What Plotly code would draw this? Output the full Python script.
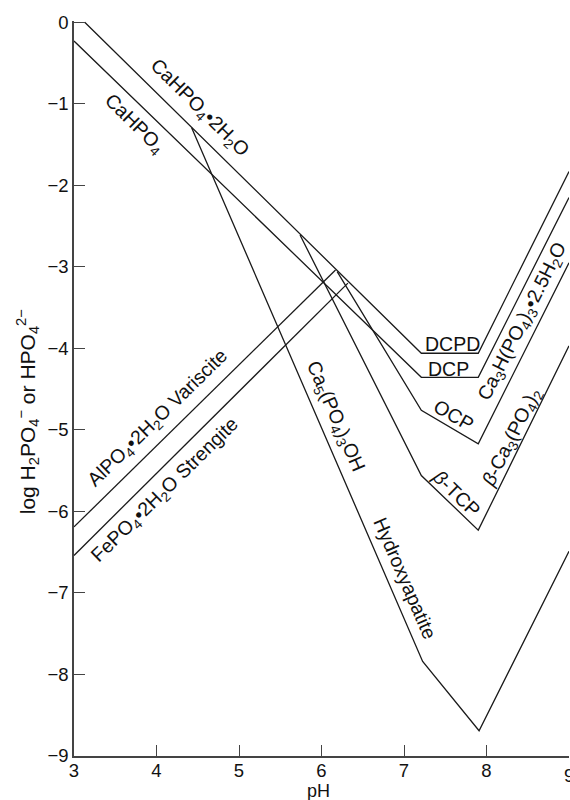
import plotly.graph_objects as go

# Solubility lines: pH vs log activity of H2PO4- / HPO4^2-
dcpd_ph = [3.13, 7.21, 7.90, 9.0]
dcpd_log = [0.0, -4.06, -4.06, -1.83]

dcp_ph = [3.0, 7.21, 7.90, 9.0]
dcp_log = [-0.23, -4.355, -4.355, -2.15]

ocp_ph = [6.19, 7.21, 7.90, 9.0]
ocp_log = [-3.06, -4.76, -5.17, -2.95]

tcp_ph = [5.74, 7.21, 7.90, 9.0]
tcp_log = [-2.61, -5.56, -6.23, -3.97]

ha_ph = [4.426, 7.226, 7.91, 9.0]
ha_log = [-1.294, -7.84, -8.69, -6.49]

variscite_ph = [3.0, 6.17]
variscite_log = [-6.19, -3.04]

strengite_ph = [3.0, 6.32]
strengite_log = [-6.54, -3.20]

x_ticks = [3, 4, 5, 6, 7, 8, 9]
y_ticks = [0, -1, -2, -3, -4, -5, -6, -7, -8, -9]

LINE = "#1a1a1a"
AXIS = "#444444"
TEXT = "#111111"
FONT = "Liberation Sans, Arial, Helvetica, sans-serif"

fig = go.Figure()
for xs, ys in [
    (dcpd_ph, dcpd_log),
    (dcp_ph, dcp_log),
    (ocp_ph, ocp_log),
    (tcp_ph, tcp_log),
    (ha_ph, ha_log),
    (variscite_ph, variscite_log),
    (strengite_ph, strengite_log),
]:
    fig.add_trace(go.Scatter(x=xs, y=ys, mode="lines",
                             line=dict(color=LINE, width=1.3),
                             showlegend=False, hoverinfo="skip"))

# Curve labels: (text, x, y, angle)
labels = [
    ("CaHPO<sub>4</sub>•2H<sub>2</sub>O", 4.527, -1.053, 44.6),
    ("CaHPO<sub>4</sub>", 3.739, -1.249, 44.6),
    ("DCPD", 7.582, -3.943, 0),
    ("DCP", 7.545, -4.249, 0),
    ("OCP", 7.606, -4.812, 30),
    ("<i>β</i>-TCP", 7.639, -5.771, 44.3),
    ("Ca<sub>3</sub>H(PO<sub>4</sub>)<sub>3</sub>•2.5H<sub>2</sub>O", 8.442, -3.673, -63.4),
    ("<i>β</i>-Ca<sub>3</sub>(PO<sub>4</sub>)<sub>2</sub>", 8.309, -5.094, -63.4),
    ("Ca<sub>5</sub>(PO<sub>4</sub>)<sub>3</sub>OH", 6.164, -4.837, 66.6),
    ("Hydroxyapatite", 7.012, -6.82, 66.6),
    ("AlPO<sub>4</sub>•2H<sub>2</sub>O Variscite", 4.018, -4.861, -44.4),
    ("FePO<sub>4</sub>•2H<sub>2</sub>O Strengite", 4.103, -5.743, -44.4),
]
for text, x, y, ang in labels:
    fig.add_annotation(x=x, y=y, xref="x", yref="y", text=text,
                       textangle=ang, showarrow=False,
                       xanchor="center", yanchor="middle",
                       font=dict(family=FONT, size=19.5, color=TEXT))

# Axis titles
fig.add_annotation(xref="paper", yref="paper", x=-0.095, y=0.469,
                   text="log H<sub>2</sub>PO<sub>4</sub><sup>−</sup> or HPO<sub>4</sub><sup>2−</sup>",
                   textangle=-90, showarrow=False,
                   xanchor="center", yanchor="middle",
                   font=dict(family=FONT, size=21, color=TEXT))
fig.add_annotation(xref="paper", yref="paper", x=0.493, y=-0.0476,
                   text="pH", showarrow=False,
                   xanchor="center", yanchor="middle",
                   font=dict(family=FONT, size=18, color=TEXT))

# The last x tick label sits on the right edge of the page
fig.add_annotation(x=x_ticks[-1], xref="x", yref="paper", y=-0.009,
                   text=str(x_ticks[-1]), showarrow=False,
                   xanchor="center", yanchor="top",
                   font=dict(family=FONT, size=18.5, color=TEXT))

fig.update_xaxes(range=[3, 9], tickvals=x_ticks[:-1],
                 ticktext=[str(v) for v in x_ticks[:-1]],
                 ticks="inside", ticklen=11, tickwidth=1.2, tickcolor=AXIS,
                 showline=True, linecolor=AXIS, linewidth=1.5,
                 showgrid=False, zeroline=False, ticklabelstandoff=-3,
                 tickfont=dict(family=FONT, size=18.5, color=TEXT))
fig.update_yaxes(range=[-9, 0.015], tickvals=y_ticks,
                 ticktext=[str(v).replace("-", "−") for v in y_ticks],
                 ticks="inside", ticklen=11, tickwidth=1.2, tickcolor=AXIS,
                 showline=True, linecolor=AXIS, linewidth=1.5,
                 showgrid=False, zeroline=False,
                 tickfont=dict(family=FONT, size=18.5, color=TEXT))

fig.update_layout(width=570, height=800,
                  margin=dict(l=74, r=1, t=21, b=44),
                  paper_bgcolor="white", plot_bgcolor="white")

fig.write_html("out.html")
